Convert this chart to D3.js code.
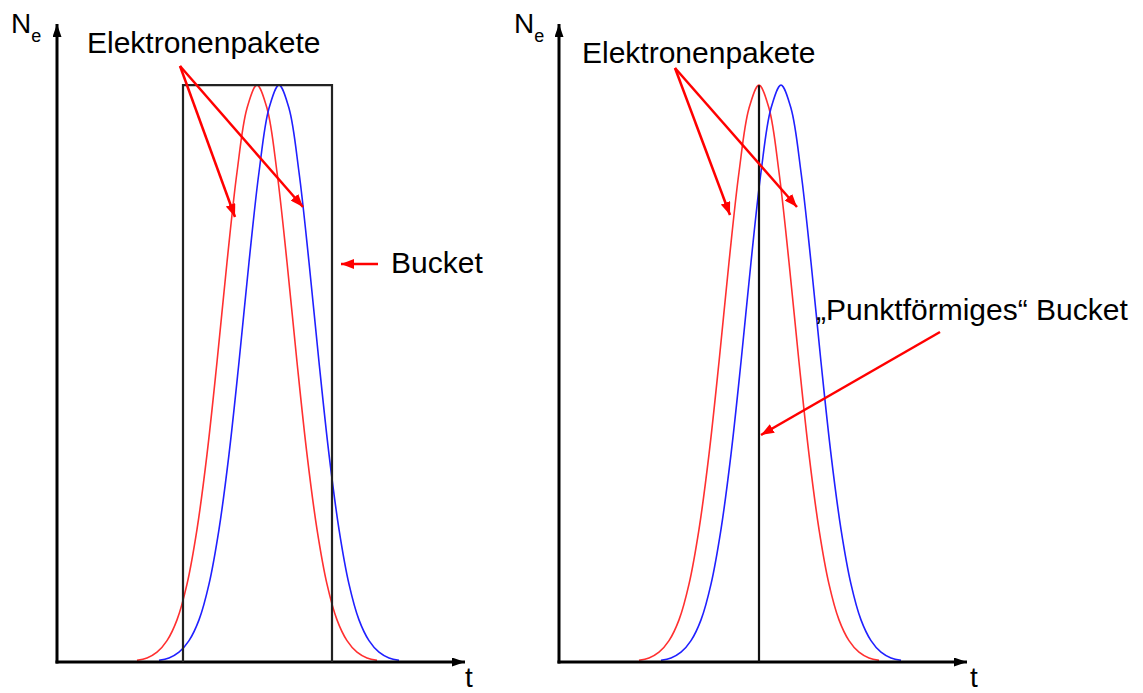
<!DOCTYPE html>
<html><head><meta charset="utf-8">
<script src="https://d3js.org/d3.v7.min.js"></script>
<style>body{margin:0;background:#fff}svg{display:block}text{font-family:"Liberation Sans",Arial,sans-serif;fill:#000}</style>
</head><body><svg id="c" width="1143" height="693"></svg>
<script>
// ---- data (t in arbitrary units, Ne normalised to peak = 1) ----
const redT  = [2.0,2.25,2.5,2.75,3.0,3.25,3.5,3.75,4.0,4.25,4.5,4.75,5.0,5.25,5.5,5.75,6.0,6.25,6.5,6.75,7.0,7.25,7.5,7.75,8.0];
const redNe = [0.003,0.007,0.017,0.037,0.073,0.135,0.230,0.360,0.520,0.693,0.849,0.960,1.0,0.960,0.849,0.693,0.520,0.360,0.230,0.135,0.073,0.037,0.017,0.007,0.003];
const blueT  = [2.55,2.8,3.05,3.3,3.55,3.8,4.05,4.3,4.55,4.8,5.05,5.3,5.55,5.8,6.05,6.3,6.55,6.8,7.05,7.3,7.55,7.8,8.05,8.3,8.55];
const blueNe = [0.003,0.007,0.017,0.037,0.073,0.135,0.230,0.360,0.520,0.693,0.849,0.960,1.0,0.960,0.849,0.693,0.520,0.360,0.230,0.135,0.073,0.037,0.017,0.007,0.003];
const bucketWide = [3.15, 6.875];   // left panel bucket edges (t)
const bucketPoint = [5.0];          // right panel point-like bucket (t)
const labels = {pakete:"Elektronenpakete", bucket:"Bucket", punkt:"\u201EPunktf\u00F6rmiges\u201C Bucket", yLab:"N", ySub:"e", xLab:"t"};

const svg = d3.select("#c");
const defs = svg.append("defs");
function marker(id, color, len, wid){
  defs.append("marker").attr("id",id).attr("markerUnits","userSpaceOnUse")
    .attr("viewBox",`0 0 ${len} ${wid}`).attr("refX",len).attr("refY",wid/2)
    .attr("markerWidth",len).attr("markerHeight",wid).attr("orient","auto")
    .append("path").attr("d",`M0,0L${len},${wid/2}L0,${wid}Z`).attr("fill",color);
}
marker("ax","#000",13,9);
marker("ra","#f00",13,10);

const y = d3.scaleLinear().domain([0,1.106]).range([662,24]);

function panel(x0){
  const x = d3.scaleLinear().domain([0,10.2]).range([x0, x0+408]);
  const g = svg.append("g");
  const line = d3.line().x(d=>x(d[0])).y(d=>y(d[1])).curve(d3.curveCatmullRom);
  g.append("path").datum(redT.map((t,i)=>[t,redNe[i]])).attr("d",line)
    .attr("fill","none").attr("stroke","#ff3030").attr("stroke-width",1.6);
  g.append("path").datum(blueT.map((t,i)=>[t,blueNe[i]])).attr("d",line)
    .attr("fill","none").attr("stroke","#2020ff").attr("stroke-width",1.6);
  g.append("line").attr("x1",x(0)).attr("x2",x(0)).attr("y1",y(0)+1.5).attr("y2",y.range()[1])
    .attr("stroke","#000").attr("stroke-width",3).attr("marker-end","url(#ax)");
  g.append("line").attr("x1",x(0)-1.5).attr("x2",x.range()[1]).attr("y1",y(0)).attr("y2",y(0))
    .attr("stroke","#000").attr("stroke-width",3).attr("marker-end","url(#ax)");
  return {x,g};
}

// ---- left panel ----
const L = panel(57);
L.g.append("path")
  .attr("d",`M${L.x(bucketWide[0])},${y(0)}V${y(1)}H${L.x(bucketWide[1])}V${y(0)}`)
  .attr("fill","none").attr("stroke","#222").attr("stroke-width",2.2);

// ---- right panel ----
const R = panel(559);
R.g.append("line").attr("x1",R.x(bucketPoint[0])).attr("x2",R.x(bucketPoint[0]))
  .attr("y1",y(0)).attr("y2",y(1)).attr("stroke","#111").attr("stroke-width",2.2);

// ---- axis labels ----
function axisLabels(nx, tx){
  const t = svg.append("text").attr("x",nx).attr("y",33).attr("font-size",28);
  t.append("tspan").text(labels.yLab);
  t.append("tspan").attr("font-size",18).attr("dy",9).text(labels.ySub);
  svg.append("text").attr("x",tx).attr("y",687).attr("font-size",28).text(labels.xLab);
}
axisLabels(11, 465);
axisLabels(514, 970);

// ---- annotations ----
function txt(s,x,yy){ svg.append("text").attr("x",x).attr("y",yy).attr("font-size",30).text(s); }
function arrow(x1,y1,x2,y2){
  svg.append("line").attr("x1",x1).attr("y1",y1).attr("x2",x2).attr("y2",y2)
    .attr("stroke","#f00").attr("stroke-width",2.5).attr("marker-end","url(#ra)");
}
txt(labels.pakete, 87, 53);
arrow(180,66,235,217);
arrow(180,66,303,207);
txt(labels.bucket, 391, 273);
arrow(378,264,341,264);

txt(labels.pakete, 582, 63);
arrow(675,68,730,215);
arrow(675,68,797,207);
txt(labels.punkt, 816, 320);
arrow(940,332,761,435);
</script></body></html>
